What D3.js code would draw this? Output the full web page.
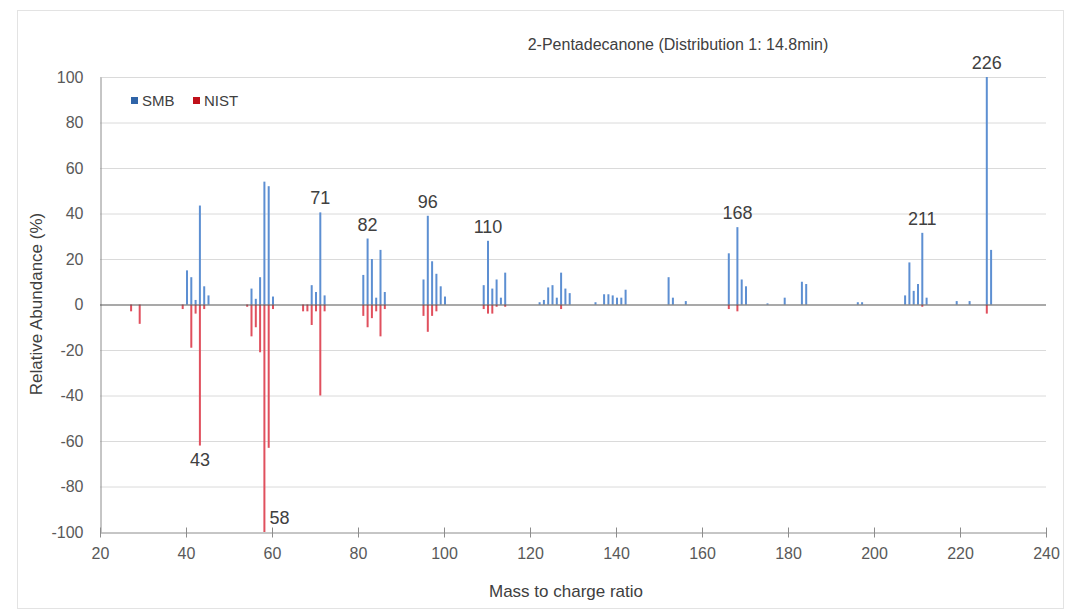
<!DOCTYPE html>
<html><head><meta charset="utf-8">
<script src="https://cdn.jsdelivr.net/npm/d3@7"></script>
<style>
html,body{margin:0;padding:0;background:#fff;}
svg{display:block;font-family:"Liberation Sans",Arial,sans-serif;}
</style></head>
<body><svg id="c" width="1071" height="614"></svg>
<script>
const title = "2-Pentadecanone (Distribution 1: 14.8min)";
const xTitle = "Mass to charge ratio";
const yTitle = "Relative Abundance (%)";
const xTicks = [20,40,60,80,100,120,140,160,180,200,220,240];
const yTicks = [-100,-80,-60,-40,-20,0,20,40,60,80,100];
const seriesNames = ["SMB","NIST"];

const smbMz  = [40,41,42,43,44,45, 55,56,57,58,59,60, 69,70,71,72, 81,82,83,84,85,86,
  95,96,97,98,99,100, 109,110,111,112,113,114, 122,123,124,125,126,127,128,129,
  135,137,138,139,140,141,142, 152,153,156, 166,168,169,170, 175,179,183,184,
  196,197, 207,208,209,210,211,212, 219,222, 226,227];
const smbVal = [15,12,2,43.5,8,4, 7,2.5,12,54,52,3.5, 8.5,5.5,40.5,4, 13,29,20,3,24,5.5,
  11,39,19,13.5,8,3.5, 8.5,28,7,11,3,14, 1,2,7.5,8.5,3,14,7,5,
  1,4.5,4.5,4,3,3,6.5, 12,3,1.5, 22.5,34,11,8, 0.5,3,10,9,
  1,1, 4,18.5,6,9,31.5,3, 1.5,1.5, 100,24];

const nistMz  = [27,29,39,41,42,43,44, 54,55,56,57,58,59,60, 67,68,69,70,71,72,
  81,82,83,84,85,86, 95,96,97,98, 109,110,111,112,114,127, 166,168,211,226];
const nistVal = [3,8.5,2,19,4,62,2, 1,14,10,21,100,63,2, 3,3,9,3,40,3,
  5,10,6,3,14,2, 5,12,5,3, 2,4,4,1,1,2, 2,3,1,4];

const peakLabels = [
  {mz:71,  series:"SMB"}, {mz:82, series:"SMB"}, {mz:96, series:"SMB"},
  {mz:110, series:"SMB"}, {mz:168, series:"SMB"}, {mz:211, series:"SMB"},
  {mz:226, series:"SMB"}, {mz:43, series:"NIST"}, {mz:58, series:"NIST"}
];

const svg = d3.select("#c");
const x = d3.scaleLinear().domain([20,240]).range([100,1046]);
const y = d3.scaleLinear().domain([-100,100]).range([532,77]);

// chart area border
svg.append("rect").attr("x",17.5).attr("y",10.5).attr("width",1046).attr("height",598)
  .attr("fill","none").attr("stroke","#e3e3e3");

// gridlines
svg.append("g").selectAll("line").data(yTicks.filter(d=>d>-100 && d!==0)).join("line")
  .attr("x1",x(20)).attr("x2",x(240)).attr("y1",d=>y(d)+0.5).attr("y2",d=>y(d)+0.5)
  .attr("stroke","#dadada").attr("stroke-width",1);

// y axis
const yAx = svg.append("g").attr("transform",`translate(${x(20)+0.5},0)`)
  .call(d3.axisLeft(y).tickValues(yTicks).tickSize(0).tickPadding(17).tickFormat(d=>String(d)));
yAx.select(".domain").attr("stroke","#8c8c8c");
yAx.selectAll("text").attr("font-size",16).attr("fill","#595959").attr("font-family","Liberation Sans, Arial, sans-serif");

// x axis at bottom
const xAx = svg.append("g").attr("transform",`translate(0,${y(-100)+0.5})`)
  .call(d3.axisBottom(x).tickValues(xTicks).tickSizeInner(5).tickSizeOuter(0).tickPadding(10).tickFormat(d=>String(d)));
xAx.select(".domain").attr("stroke","#8c8c8c");
xAx.selectAll(".tick line").attr("stroke","#8c8c8c").attr("y1",-5);
xAx.selectAll("text").attr("font-size",16).attr("fill","#595959").attr("font-family","Liberation Sans, Arial, sans-serif");

// bars
const smb = smbMz.map((m,i)=>({mz:m,v:smbVal[i]}));
const nist = nistMz.map((m,i)=>({mz:m,v:nistVal[i]}));
svg.append("g").selectAll("rect").data(nist).join("rect")
  .attr("x",d=>x(d.mz)).attr("width",2)
  .attr("y",y(0)).attr("height",d=>y(-d.v)-y(0))
  .attr("fill","#e0505e");
svg.append("g").selectAll("rect").data(smb).join("rect")
  .attr("x",d=>x(d.mz)).attr("width",2)
  .attr("y",d=>y(d.v)).attr("height",d=>y(0)-y(d.v))
  .attr("fill","#5d8fd2");

// zero line
svg.append("line").attr("x1",x(20)).attr("x2",x(240)).attr("y1",y(0)+0.5).attr("y2",y(0)+0.5)
  .attr("stroke","#555").attr("stroke-width",1.2);

// peak labels
peakLabels.forEach(p=>{
  if(p.series==="SMB"){
    const v = smbVal[smbMz.indexOf(p.mz)];
    svg.append("text").attr("x",x(p.mz)+1).attr("y",y(v)-8).attr("text-anchor","middle")
      .attr("font-size",18).attr("fill","#404040").text(p.mz);
  } else {
    const v = nistVal[nistMz.indexOf(p.mz)];
    if(v>=100){
      svg.append("text").attr("x",x(p.mz)+6).attr("y",y(-v)-8).attr("text-anchor","start")
        .attr("font-size",18).attr("fill","#404040").text(p.mz);
    } else {
      svg.append("text").attr("x",x(p.mz)+1).attr("y",y(-v)+20).attr("text-anchor","middle")
        .attr("font-size",18).attr("fill","#404040").text(p.mz);
    }
  }
});

// title
svg.append("text").attr("x",678).attr("y",50).attr("text-anchor","middle")
  .attr("font-size",16).attr("fill","#404040").text(title);

// axis titles
svg.append("text").attr("x",566).attr("y",597).attr("text-anchor","middle")
  .attr("font-size",17).attr("fill","#404040").text(xTitle);
svg.append("text").attr("transform","translate(42,304) rotate(-90)").attr("text-anchor","middle")
  .attr("font-size",17).attr("fill","#404040").text(yTitle);

// legend
const legColors = ["#2f64a8","#c0101a"];
const legX = [131,193];
seriesNames.forEach((n,i)=>{
  svg.append("rect").attr("x",legX[i]).attr("y",97).attr("width",7).attr("height",7).attr("fill",legColors[i]);
  svg.append("text").attr("x",legX[i]+11).attr("y",106).attr("font-size",15).attr("fill","#404040").text(n);
});
</script></body></html>
